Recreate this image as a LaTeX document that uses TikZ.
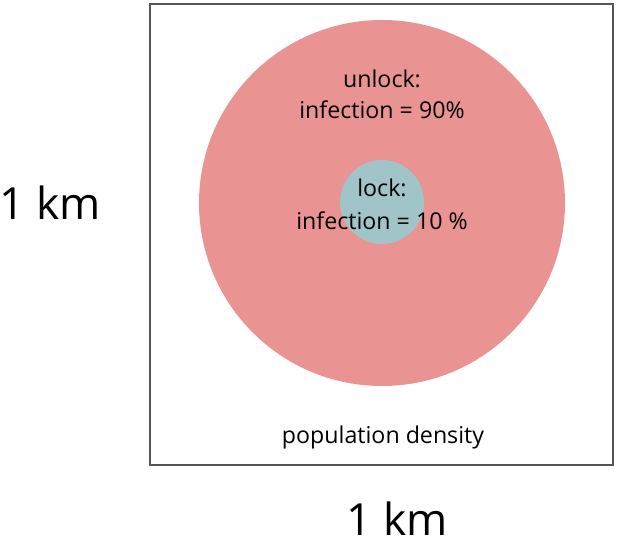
\documentclass[tikz,border=0pt]{standalone}
\usepackage{fontspec}
\setmainfont{Open Sans}
\usepackage{tikz}
\usetikzlibrary{positioning}
\definecolor{unlockred}{RGB}{233,147,147}
\definecolor{lockteal}{RGB}{160,196,200}
\definecolor{boxgray}{RGB}{85,85,85}

\begin{document}
\begin{tikzpicture}[x=0.025cm,y=-0.025cm,every node/.style={inner sep=0pt, outer sep=0pt},label/.style={font=\fontsize{16.5}{19}\selectfont},axis/.style={font=\fontsize{31.5}{36}\selectfont}]
\useasboundingbox (0,0) rectangle (617,546);
\node[draw=boxgray, line width=0.9pt, minimum width=463*0.025cm, minimum height=461*0.025cm] (area) at (381.5,234.5) {};
\node[circle, fill=unlockred, minimum size=366*0.025cm] (unlock) at (382,203) {};
\node[circle, fill=lockteal, minimum size=84*0.025cm] (lock) at (382,202) {};
\node[label] (unlocktxt) at (382,82) {unlock:\strut};
\node[label] (unlockval) at (382,113) {infection = 90\%\strut};
\node[label] (locktxt) at (382,191) {lock:\strut};
\node[label] (lockval) at (382,224) {infection = 10 \%\strut};
\node[label] (density) at (383,438) {population density\strut};
\node[axis] (side) at (50,209) {1 km\strut};
\node[axis] (bottom) at (397,525) {1 km\strut};
\end{tikzpicture}
\end{document}
